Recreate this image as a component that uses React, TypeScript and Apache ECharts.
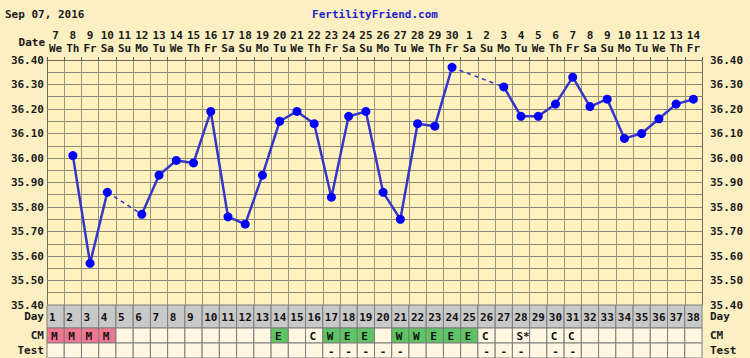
import React, { useEffect, useRef } from 'react';
import * as echarts from 'echarts';

const dateLabels = ['7','8','9','10','11','12','13','14','15','16','17','18','19','20','21','22','23','24','25','26','27','28','29','30','1','2','3','4','5','6','7','8','9','10','11','12','13','14'];
const weekdays = ['We','Th','Fr','Sa','Su','Mo','Tu','We','Th','Fr','Sa','Su','Mo','Tu','We','Th','Fr','Sa','Su','Mo','Tu','We','Th','Fr','Sa','Su','Mo','Tu','We','Th','Fr','Sa','Su','Mo','Tu','We','Th','Fr'];
const cycleDays = ['1','2','3','4','5','6','7','8','9','10','11','12','13','14','15','16','17','18','19','20','21','22','23','24','25','26','27','28','29','30','31','32','33','34','35','36','37','38'];
const temps: (number | null)[] = [null, 36.01, 35.57, 35.86, null, 35.77, 35.93, 35.99, 35.98, 36.19, 35.76, 35.73, 35.93, 36.15, 36.19, 36.14, 35.84, 36.17, 36.19, 35.86, 35.75, 36.14, 36.13, 36.37, null, null, 36.29, 36.17, 36.17, 36.22, 36.33, 36.21, 36.24, 36.08, 36.10, 36.16, 36.22, 36.24];
const cmCodes = ['M','M','M','M','','','','','','','','','','E','','C','W','E','E','','W','W','E','E','E','C','','S*','','C','C','','','','','','',''];
const testCodes = ['','','','','','','','','','','','','','','','','-','-','-','-','-','','','','','-','-','-','','-','-','','','','','','',''];
const rowNames = ['Day', 'CM', 'Test'];

const FONT = 'DejaVu Sans Mono';

export default function App() {
  const ref = useRef<HTMLDivElement>(null);
  useEffect(() => {
    const chart = echarts.init(ref.current!, null, { renderer: 'svg' });
    const cats = cycleDays;

    // dashed segments across gaps
    const dashedSeries: any[] = [];
    let last = -1;
    temps.forEach((t, i) => {
      if (t != null) {
        if (last >= 0 && i - last > 1) {
          const d = temps.map((v, j) => (j === last || j === i ? v : null));
          dashedSeries.push({
            type: 'line', xAxisIndex: 0, yAxisIndex: 0, data: d, connectNulls: true,
            symbol: 'none', lineStyle: { color: '#3030C8', width: 1.5, type: [4, 4] }, z: 2, silent: true,
          });
        }
        last = i;
      }
    });

    const rows = [
      { name: rowNames[0], texts: cycleDays, fill: (_t: string) => '#C9C9C9', align: 'left', pad: 2 },
      { name: rowNames[1], texts: cmCodes, fill: (t: string) => (t === 'M' ? '#F2768F' : (t === 'W' || t === 'E') ? '#5DC564' : '#FFF7E1'), align: 'left', pad: 4 },
      { name: rowNames[2], texts: testCodes, fill: (_t: string) => '#FFF7E1', align: 'center', pad: 0 },
    ];
    const rowGrids = [
      { top: 305, height: 23 },
      { top: 328, height: 15 },
      { top: 343, height: 15 },
    ];

    const labelFmt = (v: number) => (Math.round(v * 100) % 10 === 0 ? v.toFixed(2) : '');
    const axisLabelStyle = { fontFamily: FONT, fontWeight: 'bold' as const, fontSize: 11, color: '#1a1a1a' };

    const grids: any[] = [{ left: 47, right: 48, top: 60, height: 245, show: true, backgroundColor: '#FFF2BE', borderWidth: 0 }];
    const xAxes: any[] = [
      {
        type: 'category', gridIndex: 0, position: 'top', data: cats, boundaryGap: true,
        axisLine: { show: true, lineStyle: { color: '#6f6a5a' } },
        axisTick: { show: true, length: 3, interval: 0, lineStyle: { color: '#555' } },
        axisLabel: {
          interval: 0, margin: 5,
          formatter: (_v: string, i: number) => `{d|${dateLabels[i]}}\n{w|${weekdays[i]}}`,
          rich: {
            d: { ...axisLabelStyle, lineHeight: 13 },
            w: { ...axisLabelStyle, lineHeight: 13 },
          },
        },
        splitLine: { show: true, interval: 0, lineStyle: { color: '#9a9582', width: 1 } },
      },
    ];
    const yAxes: any[] = [
      {
        type: 'value', gridIndex: 0, min: 35.4, max: 36.4, interval: 0.05, position: 'left',
        axisLine: { show: true, lineStyle: { color: '#6f6a5a' } },
        axisTick: { show: false },
        axisLabel: { ...axisLabelStyle, margin: 3, formatter: labelFmt },
        splitLine: { show: true, lineStyle: { color: '#8c8776', width: 1 } },
      },
      {
        type: 'value', gridIndex: 0, min: 35.4, max: 36.4, interval: 0.05, position: 'right',
        axisLine: { show: true, lineStyle: { color: '#6f6a5a' } },
        axisTick: { show: false },
        axisLabel: { ...axisLabelStyle, margin: 8, formatter: labelFmt },
        splitLine: { show: false },
      },
    ];
    const tableSeries: any[] = [];

    rows.forEach((row, r) => {
      const gi = r + 1;
      grids.push({ left: 47, right: 48, top: rowGrids[r].top, height: rowGrids[r].height });
      xAxes.push({ type: 'category', gridIndex: gi, data: cats, boundaryGap: true, show: false });
      const yLeft = yAxes.length;
      yAxes.push({
        type: 'category', gridIndex: gi, data: [row.name], position: 'left',
        axisLine: { show: false }, axisTick: { show: false },
        axisLabel: { ...axisLabelStyle, margin: 3 },
      });
      yAxes.push({
        type: 'category', gridIndex: gi, data: [row.name], position: 'right',
        axisLine: { show: false }, axisTick: { show: false },
        axisLabel: { ...axisLabelStyle, margin: 8 },
      });
      const data = cats.map((_, i) => [i, 0]);
      tableSeries.push({
        type: 'custom', xAxisIndex: gi, yAxisIndex: yLeft, data, silent: true,
        renderItem: (params: any, api: any) => {
          const i = params.dataIndex;
          const text = row.texts[i];
          const c = api.coord([api.value(0), api.value(1)]);
          const s = api.size([1, 1]);
          const x0 = c[0] - s[0] / 2;
          const y0 = c[1] - s[1] / 2;
          return {
            type: 'group',
            children: [
              { type: 'rect', shape: { x: x0, y: y0, width: s[0], height: s[1] }, style: { fill: row.fill(text), stroke: '#7c7c7c', lineWidth: 1 } },
              {
                type: 'text',
                style: {
                  text, x: row.align === 'center' ? c[0] : x0 + row.pad, y: c[1] + 0.5,
                  align: row.align, verticalAlign: 'middle',
                  fontFamily: FONT, fontWeight: 'bold', fontSize: 11, fill: '#111',
                },
              },
            ],
          };
        },
      });
    });

    const option: any = {
      animation: false,
      backgroundColor: '#FCF0C3',
      textStyle: { fontFamily: FONT },
      grid: grids,
      xAxis: xAxes,
      yAxis: yAxes,
      graphic: [
        { type: 'text', left: 5, top: 9, style: { text: 'Sep 07, 2016', fontFamily: FONT, fontWeight: 'bold', fontSize: 11, fill: '#1a1a1a' } },
        { type: 'text', left: 'center', top: 9, style: { text: 'FertilityFriend.com', fontFamily: FONT, fontWeight: 'bold', fontSize: 11, fill: '#1F1FCC' } },
        { type: 'text', right: 705, top: 37, style: { text: 'Date', fontFamily: FONT, fontWeight: 'bold', fontSize: 11, fill: '#1a1a1a' } },
      ],
      series: [
        ...tableSeries,
        ...dashedSeries,
        {
          type: 'line', xAxisIndex: 0, yAxisIndex: 0, data: temps, connectNulls: false,
          symbol: 'circle', symbolSize: 9, itemStyle: { color: '#0000FF' },
          lineStyle: { color: '#3636C8', width: 2.5 }, z: 3,
        },
      ],
    };
    chart.setOption(option);
    return () => chart.dispose();
  }, []);
  return <div ref={ref} style={{ position: 'fixed', left: 0, top: 0, width: 750, height: 358 }} />;
}
